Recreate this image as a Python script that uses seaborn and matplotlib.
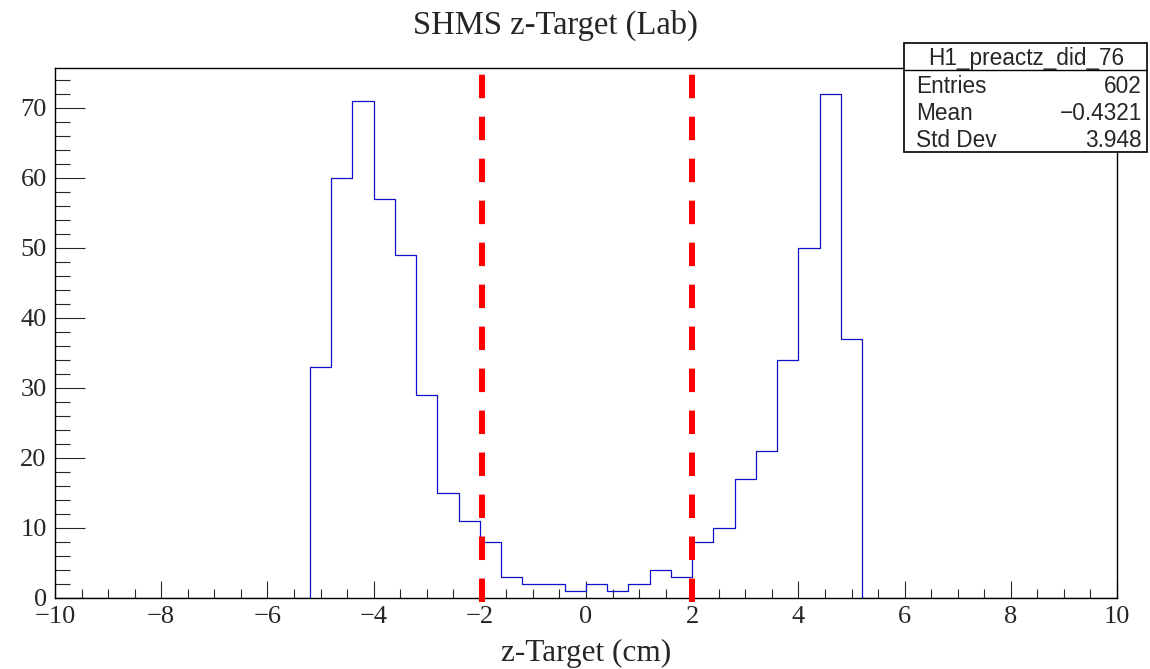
# shms_ztarget_hist.py
import numpy as np
import pandas as pd
import matplotlib
matplotlib.use("Agg")
import matplotlib.pyplot as plt
from matplotlib.patches import Rectangle
from matplotlib.lines import Line2D
from matplotlib.ticker import MultipleLocator
import seaborn as sns

# === histogram contents (0.4 cm bins from -5.2 to 5.2) ===
bin_centers = [-5.0, -4.6, -4.2, -3.8, -3.4, -3.0, -2.6, -2.2, -1.8, -1.4, -1.0, -0.6, -0.2,
               0.2, 0.6, 1.0, 1.4, 1.8, 2.2, 2.6, 3.0, 3.4, 3.8, 4.2, 4.6, 5.0]
counts = [33, 60, 71, 57, 49, 29, 15, 11, 8, 3, 2, 2, 1,
          2, 1, 2, 4, 3, 8, 10, 17, 21, 34, 50, 72, 37]
cut_positions = [-1.95, 2.0]

stats_name = "H1_preactz_did_76"
stats_labels = ["Entries", "Mean", "Std Dev"]
stats_values = ["602", "\u22120.4321", "3.948"]

df = pd.DataFrame({"z": bin_centers, "n": counts})

W, H = 1150, 669
def fx(px):
    return px / W
def fy(py):
    return 1 - py / H

sns.set_style("ticks")
plt.rcParams["font.family"] = ["Liberation Serif", "DejaVu Serif"]
plt.rcParams["axes.unicode_minus"] = True

fig = plt.figure(figsize=(11.5, 6.69), dpi=100)
ax = fig.add_axes([fx(55), fy(598), fx(1117) - fx(55), fy(67.7) - fy(598)])

sns.histplot(data=df, x="z", weights="n", binwidth=0.4, binrange=(-10, 10),
             element="step", fill=False, color="#1010c8", linewidth=0.9, ax=ax)

# dashed cut lines
for xc in cut_positions:
    ax.plot([xc, xc], [-0.53, 74.9], color="red", linewidth=4.3,
            linestyle=(0, (3.93, 3.1)), clip_on=False, zorder=5)

ax.set_xlim(-10, 10)
ax.set_ylim(0, 75.7)
ax.xaxis.set_major_locator(MultipleLocator(2))
ax.xaxis.set_minor_locator(MultipleLocator(0.5))
ax.yaxis.set_major_locator(MultipleLocator(10))
ax.yaxis.set_minor_locator(MultipleLocator(2))
ax.tick_params(axis="x", which="major", direction="in", length=12.2, width=0.8, labelsize=19, pad=5.5)
ax.tick_params(axis="x", which="minor", direction="in", length=6.5, width=0.8)
ax.tick_params(axis="y", which="major", direction="in", length=21.6, width=0.8, labelsize=19, pad=6)
ax.tick_params(axis="y", which="minor", direction="in", length=10.8, width=0.8)
for s in ax.spines.values():
    s.set_visible(True)
    s.set_color("black")
    s.set_linewidth(1.0)

ax.set_xlabel("")
ax.set_ylabel("")
fig.text(fx(586), fy(653), "z-Target (cm)", ha="center", va="center", fontsize=22.5)
fig.text(fx(555), fy(25), "SHMS z-Target (Lab)", ha="center", va="center", fontsize=23.5)

# === stats box ===
box = Rectangle((fx(904), fy(152)), fx(1147) - fx(904), fy(43) - fy(152),
                transform=fig.transFigure, facecolor="white", edgecolor="black",
                linewidth=1.2, zorder=10)
fig.add_artist(box)
fig.add_artist(Line2D([fx(904), fx(1147)], [fy(70), fy(70)], transform=fig.transFigure,
                      color="black", linewidth=1.0, zorder=11))
sans = ["Liberation Sans", "DejaVu Sans"]
fig.text(fx(1026), fy(58), stats_name, ha="center", va="center", fontsize=16.3,
         family=sans, zorder=12)
row_y = [86.5, 113.5, 140.5]
for lab, val, yy in zip(stats_labels, stats_values, row_y):
    fig.text(fx(916), fy(yy), lab, ha="left", va="center", fontsize=16.3, family=sans, zorder=12)
    fig.text(fx(1142), fy(yy), val, ha="right", va="center", fontsize=16.3, family=sans, zorder=12)

fig.savefig("out.png", dpi=100)
